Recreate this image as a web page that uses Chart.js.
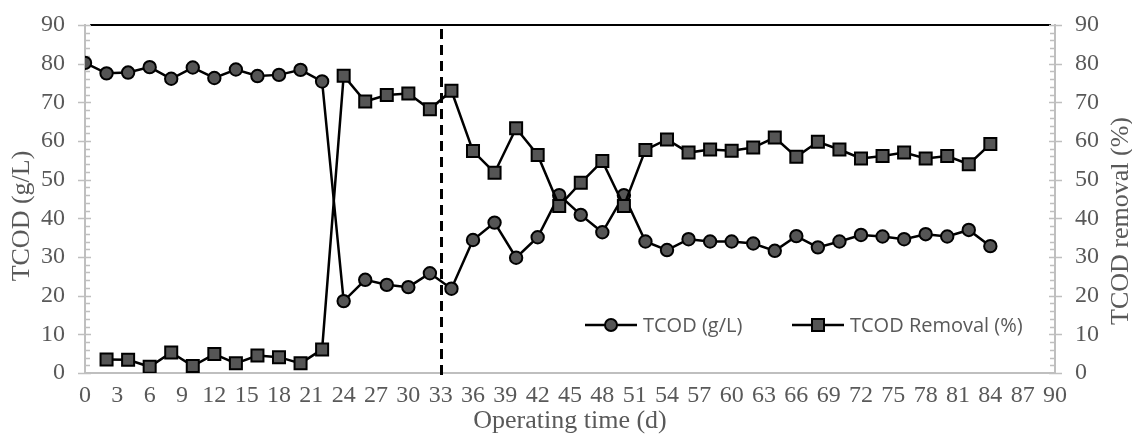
<!DOCTYPE html>
<html>
<head>
<meta charset="utf-8">
<script src="https://cdn.jsdelivr.net/npm/chart.js@4.4.1/dist/chart.umd.min.js"></script>
<style>
html,body{margin:0;padding:0;background:#fff;}
#wrap{width:1132px;height:435px;position:relative;}
</style>
</head>
<body>
<div id="wrap"><canvas id="c"></canvas></div>
<script>
// ---- data ----
const tcodDays = [0,2,4,6,8,10,12,14,16,18,20,22,24,26,28,30,32,34,36,38,40,42,44,46,48,50,52,54,56,58,60,62,64,66,68,70,72,74,76,78,80,82,84];
const tcodValues = [80.2,77.5,77.7,79.1,76.1,79.0,76.3,78.5,76.8,77.1,78.4,75.4,18.6,24.1,22.8,22.2,25.8,21.8,34.4,38.9,29.8,35.1,46.0,40.9,36.4,46.0,34.0,31.8,34.6,34.0,34.0,33.5,31.6,35.4,32.5,34.0,35.7,35.3,34.6,35.9,35.3,37.0,32.8];
const removalDays = [2,4,6,8,10,12,14,16,18,20,22,24,26,28,30,32,34,36,38,40,42,44,46,48,50,52,54,56,58,60,62,64,66,68,70,72,74,76,78,80,82,84];
const removalValues = [3.5,3.4,1.6,5.3,1.8,4.9,2.5,4.5,4.1,2.5,6.1,76.9,70.2,71.9,72.3,68.2,73.0,57.4,51.8,63.3,56.4,43.2,49.2,54.8,43.2,57.7,60.4,57.0,57.8,57.5,58.3,60.9,55.9,59.8,57.8,55.5,56.1,57.0,55.5,56.1,54.0,59.2];
const phaseDay = 33;
const xTitle = 'Operating time (d)';
const yTitle = 'TCOD (g/L)';
const y1Title = 'TCOD removal (%)';
const legendLabels = ['TCOD (g/L)', 'TCOD Removal (%)'];

const AXIS = '#bfbfbf', TXT = '#595959', FILL = '#555555';
const SERIF = '"Liberation Serif", "Times New Roman", serif';
const SANS = '"Open Sans", sans-serif';

const deco = {
  id: 'deco',
  beforeDatasetsDraw(chart){
    const {ctx, chartArea:a, scales} = chart;
    ctx.save();
    ctx.strokeStyle = '#000'; ctx.lineWidth = 2;
    ctx.beginPath(); ctx.moveTo(a.left+5, a.top); ctx.lineTo(a.right-4, a.top); ctx.stroke();
    const px = Math.round(scales.x.getPixelForValue(phaseDay))+0.5;
    ctx.lineWidth = 3; ctx.setLineDash([10,6]);
    ctx.beginPath(); ctx.moveTo(px, a.top+4); ctx.lineTo(px, a.bottom+8); ctx.stroke();
    ctx.setLineDash([]);
    ctx.strokeStyle = AXIS; ctx.lineWidth = 1.5;
    for (let v=0; v<=90; v+=2){
      const y = Math.round(scales.y.getPixelForValue(v))+0.5;
      const major = v%10===0;
      ctx.beginPath();
      if (major){ ctx.moveTo(a.left-7, y); ctx.lineTo(a.left+6, y); }
      else { ctx.moveTo(a.left, y); ctx.lineTo(a.left+5, y); }
      ctx.stroke();
      const y1 = Math.round(scales.y1.getPixelForValue(v))+0.5;
      ctx.beginPath();
      if (major){ ctx.moveTo(a.right-6, y1); ctx.lineTo(a.right+7, y1); }
      else { ctx.moveTo(a.right-5, y1); ctx.lineTo(a.right, y1); }
      ctx.stroke();
    }
    ctx.restore();
  },
  afterDraw(chart){
    const {ctx, chartArea:a} = chart;
    ctx.save();
    ctx.fillStyle = TXT;
    ctx.font = '26px ' + SERIF;
    ctx.textAlign = 'center'; ctx.textBaseline = 'middle';
    ctx.fillText(xTitle, (a.left+a.right)/2, 421);
    ctx.save(); ctx.translate(22, 216); ctx.rotate(-Math.PI/2); ctx.fillText(yTitle, 0, 0); ctx.restore();
    ctx.save(); ctx.translate(1121, 221); ctx.rotate(-Math.PI/2); ctx.fillText(y1Title, 0, 0); ctx.restore();
    const ly = 325;
    const items = [{x0:585, label:legendLabels[0], shape:'circle'},{x0:792, label:legendLabels[1], shape:'rect'}];
    items.forEach(it=>{
      ctx.strokeStyle='#000'; ctx.lineWidth=2.5;
      ctx.beginPath(); ctx.moveTo(it.x0, ly); ctx.lineTo(it.x0+52, ly); ctx.stroke();
      ctx.fillStyle = FILL; ctx.lineWidth = 2;
      const cx = it.x0+26;
      ctx.beginPath();
      if (it.shape==='circle') ctx.arc(cx, ly, 6, 0, Math.PI*2);
      else ctx.rect(cx-6, ly-6, 12, 12);
      ctx.fill(); ctx.stroke();
      ctx.fillStyle = TXT; ctx.font = '20px ' + SANS; ctx.textAlign='left'; ctx.textBaseline='middle';
      ctx.fillText(it.label, it.x0+58, ly+1);
    });
    ctx.restore();
  }
};

const tickFont = {family: SERIF, size: 24};
const hiddenGrid = {display: true, drawOnChartArea: false, drawTicks: true, tickLength: 20, color: 'rgba(0,0,0,0)', tickColor: 'rgba(0,0,0,0)'};
new Chart(document.getElementById('c'), {
  type: 'line',
  data: {
    datasets: [
      {
        label: legendLabels[1], yAxisID: 'y1',
        data: removalDays.map((d,i)=>({x:d, y:removalValues[i]})),
        borderColor: '#000', borderWidth: 2.5, backgroundColor: FILL,
        pointStyle: 'rect', pointRadius: 8.5, pointBorderWidth: 2,
        pointBackgroundColor: FILL, pointBorderColor: '#000', tension: 0
      },
      {
        label: legendLabels[0], yAxisID: 'y',
        data: tcodDays.map((d,i)=>({x:d, y:tcodValues[i]})),
        borderColor: '#000', borderWidth: 2.5, backgroundColor: FILL,
        pointStyle: 'circle', pointRadius: 6.2, pointBorderWidth: 2,
        pointBackgroundColor: FILL, pointBorderColor: '#000', tension: 0
      }
    ]
  },
  options: {
    responsive: true, maintainAspectRatio: false, animation: false, devicePixelRatio: 1,
    layout: {padding: {top: 25, left: 0, right: 0, bottom: 0}},
    plugins: {legend: {display: false}, tooltip: {enabled: false}},
    scales: {
      x: {
        type: 'linear', min: 0, max: 90,
        grid: {display: false, drawTicks: false},
        border: {display: true, color: AXIS, width: 2},
        ticks: {stepSize: 3, autoSkip: false, maxRotation: 0, color: TXT, font: tickFont, padding: 8},
        afterFit(s){ s.height = 62; }
      },
      y: {
        position: 'left', min: 0, max: 90,
        grid: hiddenGrid,
        border: {display: true, color: AXIS, width: 2},
        ticks: {stepSize: 10, color: TXT, font: tickFont, padding: 0},
        afterFit(s){ s.width = 85; }
      },
      y1: {
        position: 'right', min: 0, max: 90,
        grid: hiddenGrid,
        border: {display: true, color: AXIS, width: 2},
        ticks: {stepSize: 10, color: TXT, font: tickFont, padding: 0},
        afterFit(s){ s.width = 77; }
      }
    }
  },
  plugins: [deco]
});
</script>
</body>
</html>
